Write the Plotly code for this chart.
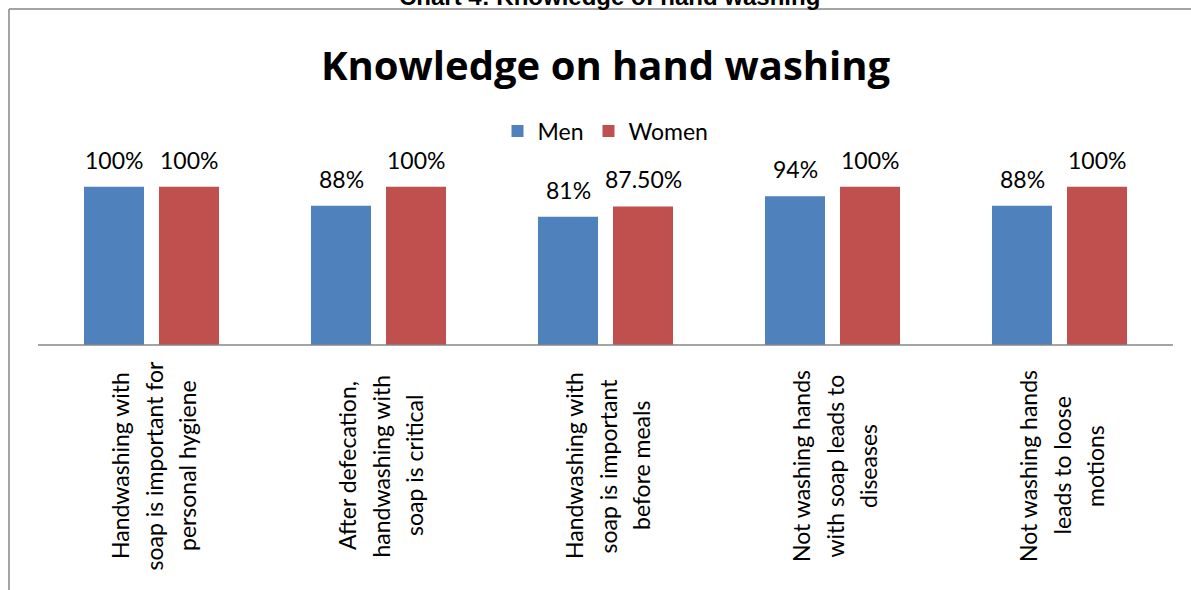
import plotly.graph_objects as go

categories = [
    "Handwashing with<br>soap is important for<br>personal hygiene",
    "After defecation,<br>handwashing with<br>soap is critical",
    "Handwashing with<br>soap is important<br>before meals",
    "Not washing hands<br>with soap leads to<br>diseases",
    "Not washing hands<br>leads to loose<br>motions",
]
cat_keys = ["c1", "c2", "c3", "c4", "c5"]
men = [1.00, 0.88, 0.81, 0.94, 0.88]
women = [1.00, 1.00, 0.875, 1.00, 1.00]
men_labels = ["100%", "88%", "81%", "94%", "88%"]
women_labels = ["100%", "100%", "87.50%", "100%", "100%"]

BLUE = "#4F81BD"
RED = "#C0504D"
GRAY = "#868686"
FONT = "Lato"

W, H = 1191, 590
L, R, T, B = 38, 18, 155, 245
PH = H - T - B
PW = W - L - R

def py(px):
    return (H - B - px) / PH

def pxx(px):
    return (px - L) / PW

fig = go.Figure()
fig.add_trace(go.Bar(name="Men", x=cat_keys, y=men, marker=dict(color=BLUE, line=dict(width=0))))
fig.add_trace(go.Bar(name="Women", x=cat_keys, y=women, marker=dict(color=RED, line=dict(width=0))))

ann = []
for k, v, t in zip(cat_keys, men, men_labels):
    ann.append(dict(x=k, y=v, xref="x", yref="y", text=t, showarrow=False,
                    xshift=-37.5, yshift=27, yanchor="middle",
                    font=dict(family=FONT, size=23, color="black")))
for k, v, t in zip(cat_keys, women, women_labels):
    ann.append(dict(x=k, y=v, xref="x", yref="y", text=t, showarrow=False,
                    xshift=37.5, yshift=27, yanchor="middle",
                    font=dict(family=FONT, size=23, color="black")))
for k, c in zip(cat_keys, categories):
    lines = c.split("<br>")
    n = len(lines)
    for i, line in enumerate(lines):
        ann.append(dict(x=k, y=py(466), xref="x", yref="paper", text=line, showarrow=False,
                        textangle=-90, xanchor="center", yanchor="middle",
                        xshift=(i - (n - 1) / 2) * 33.5 + 2,
                        font=dict(family=FONT, size=23, color="black")))
ann.append(dict(x=0.5, y=py(64), xref="paper", yref="paper", text="<b>Knowledge on hand washing</b>",
                showarrow=False, xanchor="center", yanchor="middle",
                font=dict(family="Open Sans", size=40, color="black")))
ann.append(dict(x=pxx(609), y=py(-4), xref="paper", yref="paper", text="<b>Chart 4: Knowledge of hand washing</b>",
                showarrow=False, xanchor="center", yanchor="middle",
                font=dict(family="Liberation Sans", size=24, color="black")))

fig.update_layout(
    width=W, height=H,
    margin=dict(l=L, r=R, t=T, b=B, pad=0),
    paper_bgcolor="white", plot_bgcolor="white",
    barmode="group", bargap=0.339, bargroupgap=0.2,
    showlegend=True,
    legend=dict(orientation="h", x=0.5, xanchor="center", y=py(131), yanchor="middle",
                font=dict(family=FONT, size=23, color="black"), bgcolor="rgba(0,0,0,0)",
                itemwidth=30),
    annotations=ann,
    shapes=[
        dict(type="line", xref="paper", yref="paper", x0=pxx(9), x1=pxx(1200), y0=py(9), y1=py(9),
             line=dict(color=GRAY, width=1.5)),
        dict(type="line", xref="paper", yref="paper", x0=pxx(9), x1=pxx(9), y0=py(9), y1=py(600),
             line=dict(color=GRAY, width=1.5)),
        dict(type="line", xref="paper", yref="paper", x0=0, x1=1, y0=0, y1=0,
             line=dict(color=GRAY, width=1.5), layer="above"),
    ],
    xaxis=dict(showline=False, showticklabels=False, ticks="",
               showgrid=False, zeroline=False, fixedrange=True),
    yaxis=dict(range=[0, 1.2], visible=False, showgrid=False, zeroline=False, fixedrange=True),
)

fig.write_html("out.html", config={"displayModeBar": False},
               post_script="document.body.style.margin='0';document.documentElement.style.overflow='hidden';")
